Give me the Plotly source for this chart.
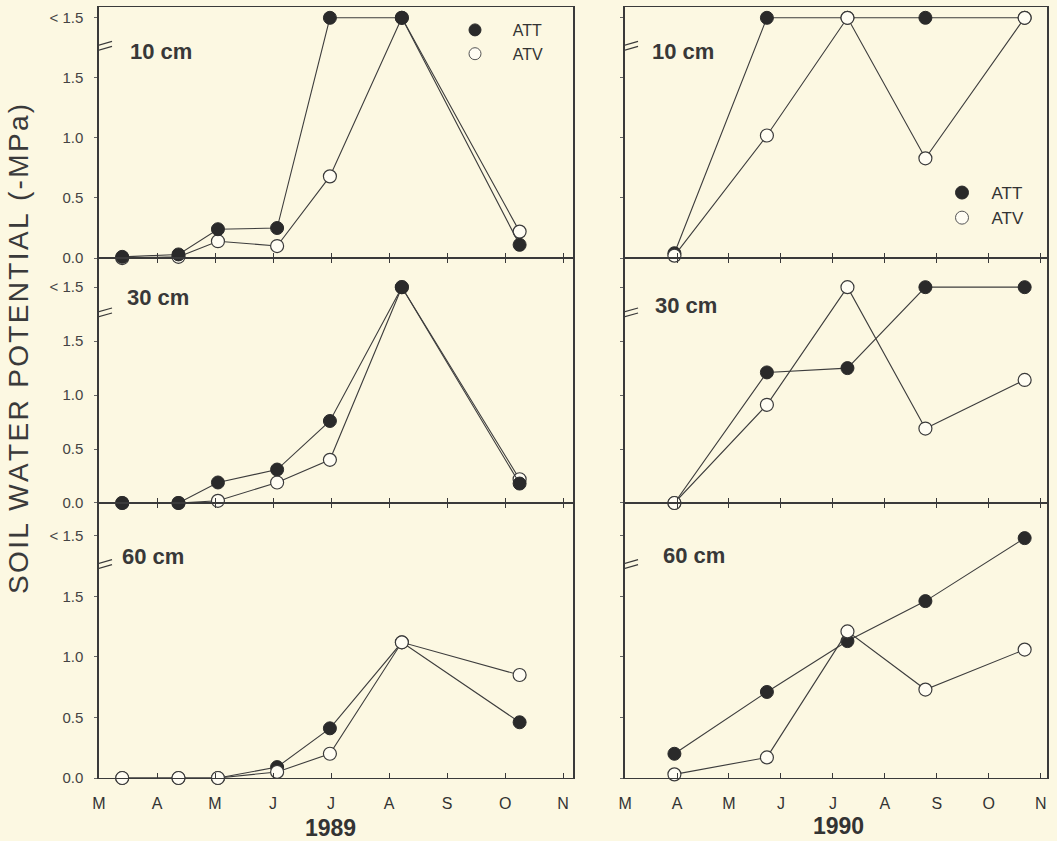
import plotly.graph_objects as go

# ---------------- data ----------------
month_ticks = [0, 1, 2, 3, 4, 5, 6, 7, 8]
month_labels = ["M", "A", "M", "J", "J", "A", "S", "O", "N"]
y_ticks = [0.0, 0.5, 1.0, 1.5, 2.0]
y_tick_labels = ["0.0", "0.5", "1.0", "1.5", "< 1.5"]

# sampling dates, months after 1 March
dates_1989 = [0.40, 1.37, 2.05, 3.07, 3.98, 5.22, 7.25]
dates_1990 = [0.95, 2.73, 4.28, 5.78, 7.69]

att_10_1989 = [0.01, 0.03, 0.24, 0.25, 2.0, 2.0, 0.11]
atv_10_1989 = [0.0, 0.01, 0.14, 0.10, 0.68, 2.0, 0.22]
att_30_1989 = [0.0, 0.0, 0.19, 0.31, 0.76, 2.0, 0.18]
atv_30_1989 = [0.0, 0.0, 0.02, 0.19, 0.40, 2.0, 0.22]
att_60_1989 = [0.0, 0.0, 0.0, 0.09, 0.41, 1.12, 0.46]
atv_60_1989 = [0.0, 0.0, 0.0, 0.05, 0.20, 1.12, 0.85]

att_10_1990 = [0.04, 2.0, 2.0, 2.0, 2.0]
atv_10_1990 = [0.02, 1.02, 2.0, 0.83, 2.0]
att_30_1990 = [0.0, 1.21, 1.25, 2.0, 2.0]
atv_30_1990 = [0.0, 0.91, 2.0, 0.69, 1.14]
att_60_1990 = [0.20, 0.71, 1.13, 1.46, 1.98]
atv_60_1990 = [0.03, 0.17, 1.21, 0.73, 1.06]

depth_labels = ["10 cm", "30 cm", "60 cm"]
year_labels = ["1989", "1990"]
y_title = "SOIL WATER POTENTIAL (-MPa)"

# ---------------- style ----------------
BG = "#fcf8e2"
INK = "#333333"
LINE = "#3d3d3d"
FONT = "Liberation Sans, Arial, sans-serif"

W, H = 1057, 841
ML, MR, MT, MB = 99, 10, 7, 63
PW, PH = W - ML - MR, H - MT - MB

x_dom = [[0.0, 0.5], [0.5549, 1.0]]
y_dom = [[0.6744, 1.0], [0.3567, 0.6744], [0.0, 0.3567]]
y_rng = [[0, 2.09], [0, 2.27], [0, 2.27]]
x_rng = [[0, 8.17], [0, 8.12]]

panels = [
    # (row, col, dates, att, atv, att_on_top, label_x, label_y)
    (0, 0, dates_1989, att_10_1989, atv_10_1989, True, 0.50, 1.72),
    (0, 1, dates_1990, att_10_1990, atv_10_1990, False, 0.48, 1.72),
    (1, 0, dates_1989, att_30_1989, atv_30_1989, True, 0.45, 1.90),
    (1, 1, dates_1990, att_30_1990, atv_30_1990, False, 0.53, 1.83),
    (2, 0, dates_1989, att_60_1989, atv_60_1989, False, 0.37, 1.83),
    (2, 1, dates_1990, att_60_1990, atv_60_1990, False, 0.70, 1.84),
]

fig = go.Figure()
layout = {}
annotations = []
shapes = []


def att_trace(x, y, xa, ya):
    return go.Scatter(x=x, y=y, xaxis=xa, yaxis=ya, mode="lines+markers",
                      line=dict(color=LINE, width=1.1),
                      marker=dict(size=13, color="#2a2a2a", line=dict(color="#2a2a2a", width=1)),
                      showlegend=False, cliponaxis=False, name="ATT")


def atv_trace(x, y, xa, ya):
    return go.Scatter(x=x, y=y, xaxis=xa, yaxis=ya, mode="lines+markers",
                      line=dict(color=LINE, width=1.1),
                      marker=dict(size=13, color="#fffdf3", line=dict(color="#3a3a3a", width=1.2)),
                      showlegend=False, cliponaxis=False, name="ATV")


for i, (r, c, dts, att, atv, att_top, lx, ly) in enumerate(panels):
    n = i + 1
    xa = "x" if n == 1 else f"x{n}"
    ya = "y" if n == 1 else f"y{n}"
    xkey = "xaxis" if n == 1 else f"xaxis{n}"
    ykey = "yaxis" if n == 1 else f"yaxis{n}"

    if att_top:
        fig.add_trace(atv_trace(dts, atv, xa, ya))
        fig.add_trace(att_trace(dts, att, xa, ya))
    else:
        fig.add_trace(att_trace(dts, att, xa, ya))
        fig.add_trace(atv_trace(dts, atv, xa, ya))

    layout[xkey] = dict(
        domain=x_dom[c], anchor=ya, range=x_rng[c],
        tickmode="array", tickvals=month_ticks, ticktext=month_labels,
        showticklabels=(r == 2), ticks="inside", ticklen=5, tickwidth=1.2,
        tickcolor="#3a3a3a", showline=True, linecolor="#3a3a3a", linewidth=1.3,
        mirror=(True if r == 0 else "ticks"), showgrid=False, zeroline=False,
        tickfont=dict(family=FONT, size=16, color=INK), ticklabelstandoff=11,
    )
    layout[ykey] = dict(
        domain=y_dom[r], anchor=xa, range=y_rng[r],
        tickmode="array", tickvals=y_ticks, ticktext=y_tick_labels,
        showticklabels=(c == 0), ticks="outside", ticklen=3, tickwidth=1,
        tickcolor="#666666", showline=True, linecolor="#3a3a3a", linewidth=1.5,
        mirror=True, showgrid=False, zeroline=False,
        tickfont=dict(family=FONT, size=15, color="#444444"), ticklabelstandoff=8,
    )

    # depth label
    annotations.append(dict(
        x=lx, y=ly, xref=xa, yref=ya, text=f"<b>{depth_labels[r]}</b>",
        showarrow=False, xanchor="left", yanchor="middle",
        font=dict(family=FONT, size=22, color="#383838"),
    ))
    # axis break marks
    for y0, y1 in [(-7, -1), (-2, 4)]:
        shapes.append(dict(
            type="line", xref=xa, yref=ya,
            xsizemode="pixel", xanchor=0, x0=-8, x1=13,
            ysizemode="pixel", yanchor=1.77, y0=y0, y1=y1,
            line=dict(color="#3a3a3a", width=1.2),
        ))

# legend entries (marker-only keys)
NB = "\u00a0"
fig.add_trace(go.Scatter(x=[None], y=[None], mode="markers", name=NB * 4 + "ATT",
                         marker=dict(size=12, color="#2a2a2a", line=dict(color="#2a2a2a", width=1)),
                         legend="legend", showlegend=True))
fig.add_trace(go.Scatter(x=[None], y=[None], mode="markers", name=NB * 4 + "ATV",
                         marker=dict(size=12, color="#fffdf3", line=dict(color="#555555", width=1)),
                         legend="legend", showlegend=True))
fig.add_trace(go.Scatter(x=[None], y=[None], mode="markers", name=NB * 2 + "ATT",
                         marker=dict(size=13, color="#2a2a2a", line=dict(color="#2a2a2a", width=1)),
                         legend="legend2", showlegend=True))
fig.add_trace(go.Scatter(x=[None], y=[None], mode="markers", name=NB * 2 + "ATV",
                         marker=dict(size=13, color="#fffdf3", line=dict(color="#555555", width=1)),
                         legend="legend2", showlegend=True))

# y-axis title (slightly letter-spaced like the original) and year labels
spaced_title = "\u200a".join(list(y_title))
annotations.append(dict(
    x=(18 - ML) / PW, y=1 - (349 - MT) / PH, xref="paper", yref="paper",
    text=spaced_title, textangle=-90, showarrow=False,
    xanchor="center", yanchor="middle", font=dict(family=FONT, size=28, color="#3a3a3a"),
))
annotations.append(dict(
    x=(330 - ML) / PW, y=1 - (828 - MT) / PH, xref="paper", yref="paper",
    text="<b>" + year_labels[0] + "</b>", showarrow=False, xanchor="center", yanchor="middle",
    font=dict(family=FONT, size=23, color="#333333"),
))
annotations.append(dict(
    x=(838 - ML) / PW, y=1 - (826 - MT) / PH, xref="paper", yref="paper",
    text="<b>" + year_labels[1] + "</b>", showarrow=False, xanchor="center", yanchor="middle",
    font=dict(family=FONT, size=23, color="#333333"),
))

fig.update_layout(
    width=W, height=H,
    margin=dict(l=ML, r=MR, t=MT, b=MB),
    paper_bgcolor=BG, plot_bgcolor=BG,
    font=dict(family=FONT, color=INK),
    annotations=annotations, shapes=shapes,
    legend=dict(x=(455 - ML) / PW, y=1 - (13 - MT) / PH,
                xanchor="left", yanchor="top", bgcolor="rgba(0,0,0,0)",
                font=dict(family=FONT, size=16, color="#333333"), tracegroupgap=0),
    legend2=dict(x=(942 - ML) / PW, y=1 - (175 - MT) / PH,
                 xanchor="left", yanchor="top", bgcolor="rgba(0,0,0,0)",
                 font=dict(family=FONT, size=17, color="#333333"), tracegroupgap=0),
    showlegend=True,
    hovermode=False,
    **layout,
)

fig.write_html(
    "out.html",
    config={"displayModeBar": False},
    post_script="document.body.style.margin='0';document.body.style.background='" + BG + "';",
)
